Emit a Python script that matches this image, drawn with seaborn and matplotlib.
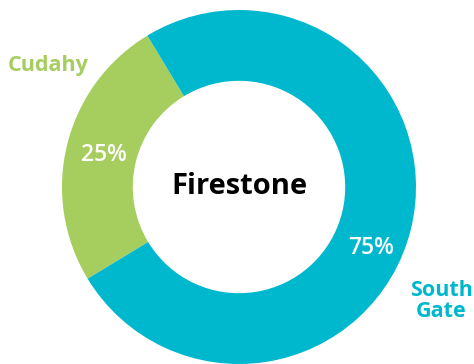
import matplotlib
matplotlib.use("Agg")
import matplotlib.pyplot as plt
import seaborn as sns

categories = ["Cudahy", "South Gate"]
values = [25, 75]
pct_labels = ["25%", "75%"]
center_label = "Firestone"
colors = ["#A5CE5F", "#00B8CE"]

sns.set_theme(style="white")
plt.rcParams["font.family"] = ["Open Sans", "DejaVu Sans"]

fig = plt.figure(figsize=(4.74, 3.64), dpi=100)
ax = fig.add_axes([0, 0, 1, 1])
ax.set_axis_off()

R = 177.0
cx, cy = 239.0, 364 - 187.0

wedges, _ = ax.pie(values, colors=colors, startangle=121.2, counterclock=True,
                   radius=1.0, wedgeprops=dict(width=0.40, edgecolor="none"))
ax.set_aspect("equal")
ax.set_xlim(-cx / R, (474 - cx) / R)
ax.set_ylim(-cy / R, (364 - cy) / R)

def px(x, y):
    return ((x - cx) / R, ((364 - y) - cy) / R)

ax.text(*px(239, 187), center_label, ha="center", va="center",
        fontsize=21, fontweight="bold", color="black")
ax.text(*px(104, 155), pct_labels[0], ha="center", va="center",
        fontsize=16.5, color="white", fontweight="semibold")
ax.text(*px(371, 248), pct_labels[1], ha="center", va="center",
        fontsize=16.5, color="white", fontweight="semibold")
ax.text(*px(48, 66), categories[0], ha="center", va="center",
        fontsize=15.5, color=colors[0], fontweight="bold")
ax.text(*px(441, 301), "South\nGate", ha="center", va="center",
        fontsize=15.5, color=colors[1], fontweight="bold", linespacing=0.95)

fig.savefig("out.png", dpi=100)
